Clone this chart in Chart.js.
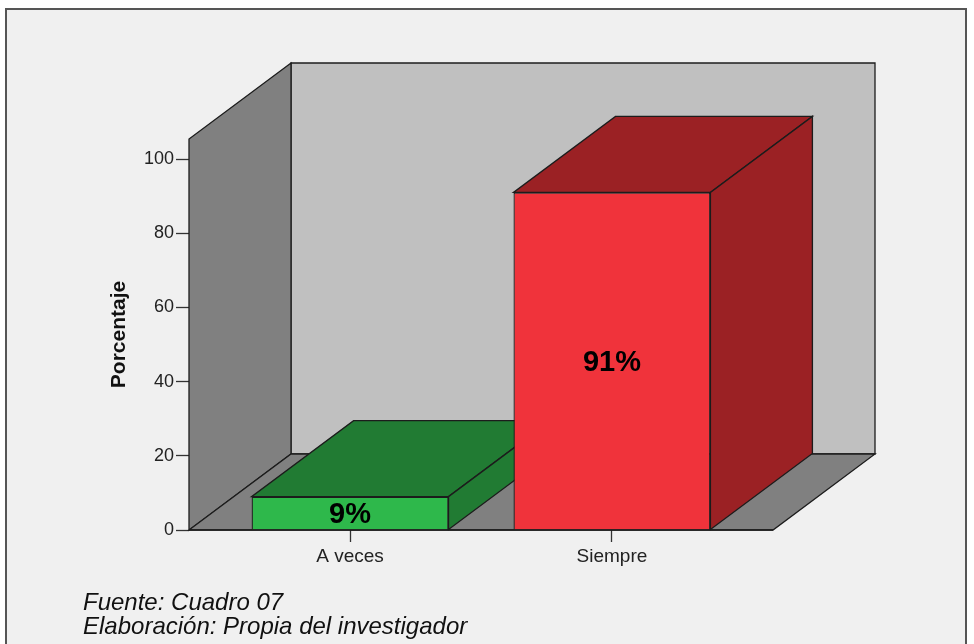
<!DOCTYPE html>
<html lang="es">
<head>
<meta charset="utf-8">
<title>Porcentaje</title>
<script src="https://cdn.jsdelivr.net/npm/chart.js@4.4.1/dist/chart.umd.min.js"></script>
<style>
  html, body { margin: 0; padding: 0; background: #ffffff; }
  canvas { display: block; }
</style>
</head>
<body>
<canvas id="grafico" width="974" height="644"></canvas>
<script>
// Datos
const categorias = ['A veces', 'Siempre'];
const porcentajes = [9, 91];
const ticksY = [0, 20, 40, 60, 80, 100];
const notas = ['Fuente: Cuadro 07', 'Elaboración: Propia del investigador'];

// Estilo
const FUENTE = "'Liberation Sans', Arial, Helvetica, sans-serif";
const coloresFrente = ['#2eb84b', '#f0333b'];
const coloresCara = ['#217b33', '#9b2124'];
const LINEA = '#1c1c1c';
const PROF = { dx: 102, dy: 76 };

function poligono(ctx, pts, relleno) {
  ctx.beginPath();
  ctx.moveTo(pts[0][0], pts[0][1]);
  for (let i = 1; i < pts.length; i++) ctx.lineTo(pts[i][0], pts[i][1]);
  ctx.closePath();
  ctx.fillStyle = relleno;
  ctx.fill();
  ctx.lineWidth = 1.3;
  ctx.strokeStyle = LINEA;
  ctx.lineJoin = 'miter';
  ctx.stroke();
}

const caja3d = {
  id: 'caja3d',
  beforeDraw(chart) {
    const ctx = chart.ctx;
    ctx.save();
    ctx.fillStyle = '#ffffff';
    ctx.fillRect(0, 0, chart.width, chart.height);
    ctx.fillStyle = '#f0f0f0';
    ctx.fillRect(6, 9, 960, 700);
    ctx.strokeStyle = '#555';
    ctx.lineWidth = 2;
    ctx.strokeRect(6, 9, 960, 700);
    ctx.restore();
  },
  beforeDatasetsDraw(chart) {
    const { ctx, chartArea: { left, right, top, bottom } } = chart;
    const { dx, dy } = PROF;
    ctx.save();
    // pared del fondo
    poligono(ctx, [[left + dx, top - dy], [right + dx, top - dy], [right + dx, bottom - dy], [left + dx, bottom - dy]], '#c0c0c0');
    // pared izquierda
    poligono(ctx, [[left, bottom], [left, top], [left + dx, top - dy], [left + dx, bottom - dy]], '#808080');
    // piso
    poligono(ctx, [[left, bottom], [right, bottom], [right + dx, bottom - dy], [left + dx, bottom - dy]], '#808080');
    // caras superior y lateral de cada barra
    const meta = chart.getDatasetMeta(0);
    meta.data.forEach((bar, i) => {
      const { x, y, base, width } = bar.getProps(['x', 'y', 'base', 'width'], true);
      const l = x - width / 2, r = x + width / 2;
      poligono(ctx, [[l, y], [r, y], [r + dx, y - dy], [l + dx, y - dy]], coloresCara[i]);
      poligono(ctx, [[r, y], [r, base], [r + dx, base - dy], [r + dx, y - dy]], coloresCara[i]);
    });
    ctx.restore();
  },
  afterDatasetsDraw(chart) {
    const { ctx, chartArea: { left, right, bottom } } = chart;
    ctx.save();
    // borde frontal del piso
    ctx.beginPath();
    ctx.moveTo(left, bottom);
    ctx.lineTo(right, bottom);
    ctx.lineWidth = 1.6;
    ctx.strokeStyle = LINEA;
    ctx.stroke();
    // etiquetas de porcentaje en la cara frontal
    const meta = chart.getDatasetMeta(0);
    ctx.font = 'bold 29px ' + FUENTE;
    ctx.fillStyle = '#000';
    ctx.textAlign = 'center';
    ctx.textBaseline = 'middle';
    meta.data.forEach((bar, i) => {
      const { x, y, base } = bar.getProps(['x', 'y', 'base'], true);
      ctx.fillText(porcentajes[i] + '%', x, (y + base) / 2 + 2);
    });
    ctx.restore();
  },
  afterDraw(chart) {
    const ctx = chart.ctx;
    ctx.save();
    ctx.font = 'italic 24px ' + FUENTE;
    ctx.fillStyle = '#111';
    ctx.textAlign = 'left';
    ctx.textBaseline = 'alphabetic';
    ctx.fillText(notas[0], 83, 610);
    ctx.fillText(notas[1], 83, 634);
    ctx.restore();
  }
};

new Chart(document.getElementById('grafico'), {
  type: 'bar',
  data: {
    datasets: [{
      data: categorias.map((c, i) => ({ x: i, y: porcentajes[i] })),
      backgroundColor: coloresFrente,
      borderColor: LINEA,
      borderWidth: 1.3,
      barPercentage: 0.752,
      categoryPercentage: 1
    }]
  },
  options: {
    responsive: false,
    devicePixelRatio: 1,
    animation: false,
    layout: { padding: { left: 107, right: 201, top: 139, bottom: 0 } },
    plugins: { legend: { display: false }, tooltip: { enabled: false } },
    scales: {
      x: {
        type: 'linear',
        offset: false,
        min: -0.615,
        max: 1.615,
        afterBuildTicks(scale) { scale.ticks = categorias.map((c, i) => ({ value: i })); },
        afterFit(scale) { scale.height = 114; },
        grid: { display: true, offset: false, drawOnChartArea: false, drawTicks: true, tickLength: 12, tickColor: '#333', tickWidth: 1.3 },
        border: { display: false },
        ticks: {
          callback: (v) => categorias[v],
          font: { family: FUENTE, size: 19 },
          color: '#222',
          padding: 3,
          maxRotation: 0
        }
      },
      y: {
        min: 0,
        max: 105.4,
        afterBuildTicks(scale) { scale.ticks = ticksY.map(v => ({ value: v })); },
        afterFit(scale) { scale.width = 82; },
        grid: { display: true, drawOnChartArea: false, drawTicks: true, tickLength: 13, tickColor: '#333', tickWidth: 1.3 },
        border: { display: false },
        ticks: {
          font: { family: FUENTE, size: 18 },
          color: '#222',
          padding: 2
        },
        title: {
          display: true,
          text: 'Porcentaje',
          font: { family: FUENTE, size: 21, weight: 'bold' },
          color: '#111',
          padding: { top: 0, bottom: 0 }
        }
      }
    }
  },
  plugins: [caja3d]
});
</script>
</body>
</html>
